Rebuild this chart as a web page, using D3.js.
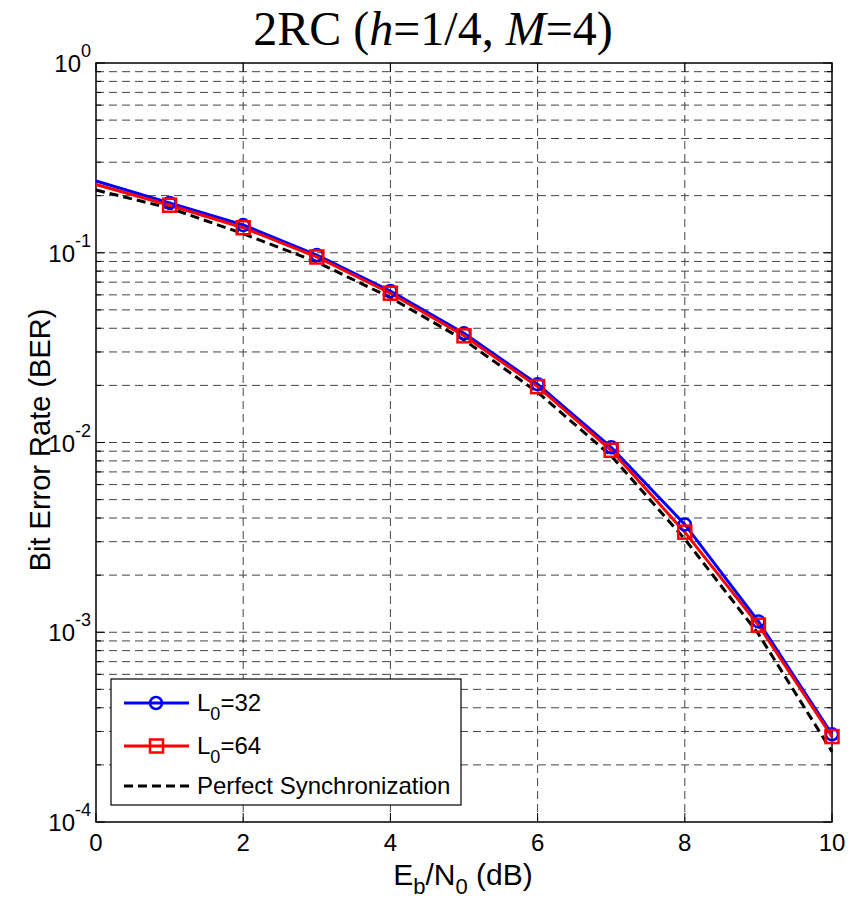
<!DOCTYPE html>
<html><head><meta charset="utf-8">
<script src="https://cdn.jsdelivr.net/npm/d3@7"></script>
<style>body{margin:0;background:#fff}</style>
</head><body>
<svg id="c" width="857" height="900"></svg>
<script>
const snr = [0,1,2,3,4,5,6,7,8,9,10];
const berL32 = [0.239,0.183,0.140,0.0973,0.0629,0.0376,0.0203,0.00944,0.0037,0.00114,0.00029];
const berL64 = [0.229,0.178,0.1355,0.095,0.0612,0.0365,0.0197,0.0091,0.00337,0.00109,0.000282];
const berPerfect = [0.214,0.172,0.126,0.0894,0.058,0.0347,0.0184,0.0085,0.0031,0.00098,0.000235];
const xTicks = [0,2,4,6,8,10];
const yDecades = [-4,-3,-2,-1,0];

const svg = d3.select("#c");
const L=96, R=832, T=63, B=822;
const x = d3.scaleLinear().domain([0,10]).range([L,R]);
const y = d3.scaleLog().domain([1e-4,1]).range([B,T]);

// grid
const g = svg.append("g");
const minorVals = [];
for (let e=-4;e<0;e++) for (let m=1;m<=9;m++) minorVals.push(m*Math.pow(10,e));
minorVals.push(1);
g.selectAll("line.hg").data(minorVals.filter(v=>v>1e-4 && v<1)).enter().append("line")
 .attr("x1",L).attr("x2",R).attr("y1",d=>y(d)).attr("y2",d=>y(d))
 .attr("stroke","#444").attr("stroke-width",1).attr("stroke-dasharray","8,5");
g.selectAll("line.vg").data(xTicks.filter(v=>v>0&&v<10)).enter().append("line")
 .attr("y1",T).attr("y2",B).attr("x1",d=>x(d)).attr("x2",d=>x(d))
 .attr("stroke","#444").attr("stroke-width",1).attr("stroke-dasharray","8,5");

// frame
svg.append("rect").attr("x",L).attr("y",T).attr("width",R-L).attr("height",B-T)
 .attr("fill","none").attr("stroke","#000").attr("stroke-width",1.5);

// ticks
const tk = svg.append("g").attr("stroke","#000").attr("stroke-width",1);
minorVals.forEach(v=>{
  const major = Math.abs(Math.log10(v)-Math.round(Math.log10(v)))<1e-9;
  const len = major?9:5;
  tk.append("line").attr("x1",L).attr("x2",L+len).attr("y1",y(v)).attr("y2",y(v));
  tk.append("line").attr("x1",R).attr("x2",R-len).attr("y1",y(v)).attr("y2",y(v));
});
xTicks.forEach(v=>{
  tk.append("line").attr("x1",x(v)).attr("x2",x(v)).attr("y1",B).attr("y2",B-9);
  tk.append("line").attr("x1",x(v)).attr("x2",x(v)).attr("y1",T).attr("y2",T+9);
});

// tick labels
const font = "Arial, 'Liberation Sans', sans-serif";
xTicks.forEach(v=>{
  svg.append("text").attr("x",x(v)).attr("y",B+29).attr("text-anchor","middle")
   .attr("font-family",font).attr("font-size",24).text(v);
});
yDecades.forEach(e=>{
  const t = svg.append("text").attr("x",91).attr("y",y(Math.pow(10,e))+9).attr("text-anchor","end")
   .attr("font-family",font).attr("font-size",24);
  t.append("tspan").text("10");
  t.append("tspan").attr("dy",-15).attr("font-size",18).text(e);
});

// axis labels
svg.append("text").attr("transform",`translate(50,440) rotate(-90)`).attr("text-anchor","middle")
 .attr("font-family",font).attr("font-size",29).text("Bit Error Rate (BER)");
const xl = svg.append("text").attr("x",463).attr("y",885).attr("text-anchor","middle")
 .attr("font-family",font).attr("font-size",30);
xl.append("tspan").text("E");
xl.append("tspan").attr("dy",9).attr("font-size",22).text("b");
xl.append("tspan").attr("dy",-9).text("/N");
xl.append("tspan").attr("dy",9).attr("font-size",22).text("0");
xl.append("tspan").attr("dy",-9).text(" (dB)");

// title
const tt = svg.append("text").attr("x",433).attr("y",45).attr("text-anchor","middle")
 .attr("font-family","'Liberation Serif','Times New Roman',serif").attr("font-size",48);
tt.append("tspan").text("2RC (");
tt.append("tspan").attr("font-style","italic").text("h");
tt.append("tspan").text("=1/4, ");
tt.append("tspan").attr("font-style","italic").text("M");
tt.append("tspan").text("=4)");

// series
const line = d3.line().x((d,i)=>x(snr[i])).y(d=>y(d));
svg.append("path").datum(berPerfect).attr("d",line).attr("fill","none")
 .attr("stroke","#000").attr("stroke-width",3).attr("stroke-dasharray","9,5");
svg.append("path").datum(berL32).attr("d",line).attr("fill","none")
 .attr("stroke","#0000ff").attr("stroke-width",3);
svg.append("path").datum(berL64).attr("d",line).attr("fill","none")
 .attr("stroke","#ff0000").attr("stroke-width",3);
svg.selectAll("circle.m").data(berL32.slice(1)).enter().append("circle")
 .attr("cx",(d,i)=>x(snr[i+1])).attr("cy",d=>y(d)).attr("r",6)
 .attr("fill","none").attr("stroke","#0000ff").attr("stroke-width",2.5);
svg.selectAll("rect.m").data(berL64.slice(1)).enter().append("rect")
 .attr("x",(d,i)=>x(snr[i+1])-6.5).attr("y",d=>y(d)-6.5).attr("width",13).attr("height",13)
 .attr("fill","none").attr("stroke","#ff0000").attr("stroke-width",2.5);

// legend
const lg = svg.append("g");
lg.append("rect").attr("x",111).attr("y",679).attr("width",350).attr("height",126)
 .attr("fill","#fff").attr("stroke","#000").attr("stroke-width",1.2);
const items = [
 {c:"#0000ff",dash:null,mk:"circle",lab:["L","0","=32"],yy:703},
 {c:"#ff0000",dash:null,mk:"square",lab:["L","0","=64"],yy:746},
 {c:"#000",dash:"9,5",mk:null,lab:["Perfect Synchronization"],yy:786}
];
items.forEach(it=>{
  lg.append("line").attr("x1",124).attr("x2",189).attr("y1",it.yy).attr("y2",it.yy)
   .attr("stroke",it.c).attr("stroke-width",3).attr("stroke-dasharray",it.dash);
  if(it.mk==="circle") lg.append("circle").attr("cx",156).attr("cy",it.yy).attr("r",6)
   .attr("fill","none").attr("stroke",it.c).attr("stroke-width",2.5);
  if(it.mk==="square") lg.append("rect").attr("x",150).attr("y",it.yy-6.5).attr("width",13).attr("height",13)
   .attr("fill","none").attr("stroke",it.c).attr("stroke-width",2.5);
  const t = lg.append("text").attr("x",197).attr("y",it.yy+8).attr("font-family",font).attr("font-size",24);
  if(it.lab.length===3){
    t.append("tspan").text(it.lab[0]);
    t.append("tspan").attr("dy",9).attr("font-size",18).text(it.lab[1]);
    t.append("tspan").attr("dy",-9).text(it.lab[2]);
  } else t.text(it.lab[0]);
});
</script>
</body></html>
